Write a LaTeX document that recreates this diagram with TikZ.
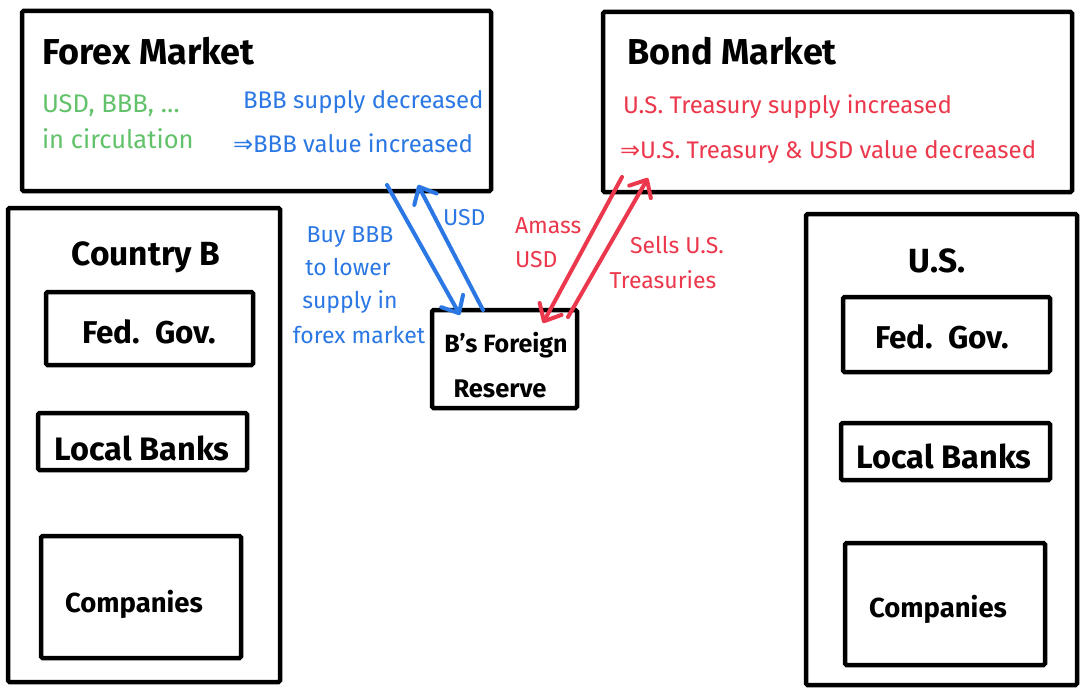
\documentclass[tikz,border=0pt]{standalone}
\usepackage{fontspec}
\setmainfont{Fira Sans}
\newfontfamily\djv{DejaVu Sans}
\usetikzlibrary{arrows.meta}
\definecolor{hblue}{RGB}{43,120,228}
\definecolor{hred}{RGB}{236,56,76}
\definecolor{hgreen}{RGB}{98,194,106}
\newcommand{\fsz}[1]{\fontsize{#1}{#1}\selectfont}
\newcommand{\imp}{{\djv ⇒}}
\begin{document}
\begin{tikzpicture}[x=1pt,y=-1pt,
  box/.style={draw=black, line width=4.5pt, rounded corners=1.5pt, inner sep=0pt},
  lbl/.style={inner sep=0pt, outer sep=0pt},
  title/.style={lbl, font=\fsz{36}\bfseries},
  ctitle/.style={lbl, font=\fsz{33.5}\bfseries},
  inbox/.style={lbl, font=\fsz{31.5}\bfseries},
  note/.style={lbl, font=\fsz{24}},
  cnote/.style={lbl, font=\fsz{23}},
  arr/.style={line width=4pt, line cap=round, line join=round,
    -{Straight Barb[length=14pt,width=25pt,line cap=round,line join=round]}}
]
\useasboundingbox[fill=white] (0,0) rectangle (1087,693);

% markets
\node[box, minimum width=469pt, minimum height=180pt] (forex) at (256.5,101) {};
\node[box, minimum width=469pt, minimum height=180pt] (bond) at (837.5,102) {};
\node[title, anchor=base west] (forext) at (42,65) {Forex Market};
\node[title, anchor=base west] (bondt) at (627,65) {Bond Market};
\node[note, font=\fsz{25.5}, hgreen, anchor=base west] (g1) at (42,112) {USD, BBB, \dots};
\node[note, font=\fsz{25.5}, hgreen, anchor=base west] (g2) at (42,148) {in circulation};
\node[note, hblue, anchor=base west] (fb1) at (243,108) {BBB supply decreased};
\node[note, hblue, anchor=base west] (fb2) at (233,152) {\imp BBB value increased};
\node[note, hred, anchor=base west] (br1) at (623,113) {U.S. Treasury supply increased};
\node[note, hred, anchor=base west] (br2) at (620,158) {\imp U.S. Treasury \& USD value decreased};

% country B
\node[box, minimum width=272pt, minimum height=474pt] (cb) at (144,445) {};
\node[ctitle, anchor=base] (cbt) at (146,265) {Country B};
\node[box, minimum width=207pt, minimum height=73pt] (fedb) at (149.5,328.5) {};
\node[inbox, anchor=base] (fedbt) at (149,343) {Fed.\ \ Gov.};
\node[box, minimum width=209pt, minimum height=57pt] (bankb) at (142.5,441.5) {};
\node[inbox, font=\fsz{32.5}\bfseries, anchor=base] (bankbt) at (142,460) {Local Banks};
\node[box, minimum width=200pt, minimum height=122pt] (compb) at (141,597) {};
\node[inbox, font=\fsz{27.5}\bfseries, anchor=base] (compbt) at (134,612) {Companies};

% U.S.
\node[box, minimum width=271pt, minimum height=471pt] (us) at (941.5,449.5) {};
\node[ctitle, anchor=base] (ust) at (937,272) {U.S.};
\node[box, minimum width=207pt, minimum height=75pt] (fedu) at (946.5,334.5) {};
\node[inbox, anchor=base] (fedut) at (942,348) {Fed.\ \ Gov.};
\node[box, minimum width=209pt, minimum height=57pt] (banku) at (945.5,451.5) {};
\node[inbox, font=\fsz{32.5}\bfseries, anchor=base] (bankut) at (944,468) {Local Banks};
\node[box, minimum width=200pt, minimum height=122pt] (compu) at (945,604) {};
\node[inbox, font=\fsz{27.5}\bfseries, anchor=base] (comput) at (938,617) {Companies};

% reserve
\node[box, minimum width=145pt, minimum height=98pt] (res) at (504.5,359) {};
\node[inbox, font=\fsz{25}\bfseries, anchor=base] (rest1) at (506,352) {B's Foreign};
\node[inbox, font=\fsz{25.5}\bfseries, anchor=base] (rest2) at (500,397) {Reserve};

% connectors
\coordinate (b1s) at (387,185);
\coordinate (b1e) at (460,315);
\coordinate (b2s) at (483,310);
\coordinate (b2e) at (418,185);
\coordinate (r1s) at (622,177);
\coordinate (r1e) at (543,323);
\coordinate (r2s) at (568,317);
\coordinate (r2e) at (648,178);
\draw[arr, hblue] (b1s) -- (b1e);
\draw[arr, hblue] (b2s) -- (b2e);
\draw[arr, hred] (r1s) -- (r1e);
\draw[arr, hred] (r2s) -- (r2e);

% connector labels
\node[cnote, hblue, anchor=base] (bl1) at (350,242) {Buy BBB};
\node[cnote, hblue, anchor=base] (bl2) at (348,275) {to lower};
\node[cnote, hblue, anchor=base] (bl3) at (350,308) {supply in};
\node[cnote, hblue, anchor=base] (bl4) at (359,343) {forex market};
\node[cnote, hblue, anchor=base west] (bu) at (443,225) {USD};
\node[cnote, hred, anchor=base west] (ra1) at (515,233) {Amass};
\node[cnote, hred, anchor=base west] (ra2) at (515,267) {USD};
\node[cnote, hred, anchor=base] (rs1) at (677,253) {Sells U.S.};
\node[cnote, hred, anchor=base] (rs2) at (663,288) {Treasuries};
\end{tikzpicture}
\end{document}
